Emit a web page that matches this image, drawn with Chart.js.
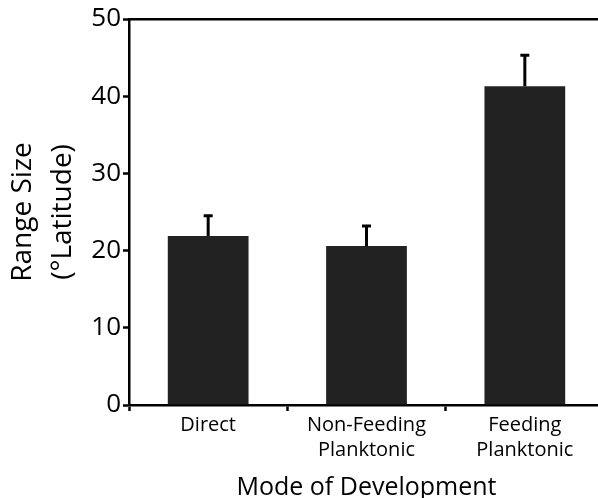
<!DOCTYPE html>
<html>
<head>
<meta charset="utf-8">
<script src="https://cdn.jsdelivr.net/npm/chart.js@4"></script>
<style>
html, body { margin: 0; padding: 0; background: #fff; overflow: hidden; }
</style>
</head>
<body>
<canvas id="rangeChart" width="604" height="498"></canvas>
<script>
// range size by mode of development

let categories = [
  "Direct",
  ["Non-Feeding", "Planktonic"],
  ["Feeding", "Planktonic"]
];

let rangeSize = [21.9, 20.6, 41.3];

let rangeErr = [2.6, 2.6, 4.0];

let yTicks = [0, 10, 20, 30, 40, 50];


// upward error bars only (the lower half is hidden by the bar)
let errorBars = {
  id: "errorBars",
  afterDatasetsDraw(chart) {
    let ctx = chart.ctx;
    let y = chart.scales.y;
    let meta = chart.getDatasetMeta(0);
    ctx.save();
    ctx.strokeStyle = "#000";
    ctx.lineWidth = 3;
    meta.data.forEach((bar, i) => {
      let x = bar.x;
      let top = y.getPixelForValue(rangeSize[i] + rangeErr[i]);
      ctx.beginPath();
      ctx.moveTo(x, bar.y);
      ctx.lineTo(x, top);
      ctx.moveTo(x - 4.5, top);
      ctx.lineTo(x + 4.5, top);
      ctx.stroke();
    });
    ctx.restore();
  }
};


let canvas = document.getElementById("rangeChart");

let chart = new Chart(canvas, {
  type: "bar",
  data: {
    labels: categories,
    datasets: [{
      data: rangeSize,
      backgroundColor: "#222222",
      borderWidth: 0,
      categoryPercentage: 1,
      barPercentage: 0.51
    }]
  },
  options: {
    responsive: false,
    devicePixelRatio: 1,
    animation: false,
    layout: { padding: { top: 19, left: 0, right: 0, bottom: 0 } },
    plugins: {
      legend: { display: false },
      tooltip: { enabled: false }
    },
    scales: {
      x: {
        offset: true,
        afterFit: s => { s.height = 93; },
        grid: {
          display: true,
          drawOnChartArea: false,
          offset: true,
          tickLength: 6,
          tickWidth: 2.5,
          color: "#000"
        },
        border: { display: true, color: "#000", width: 2.5 },
        ticks: {
          color: "#000",
          padding: 2,
          maxRotation: 0,
          font: { family: "Open Sans", size: 20, lineHeight: 1.25 }
        },
        title: {
          display: true,
          text: "Mode of Development",
          color: "#000",
          padding: { top: 0, bottom: 0 },
          font: { family: "Open Sans", size: 25, lineHeight: 0.8 }
        }
      },
      x2: {
        type: "category",
        position: "top",
        offset: true,
        afterFit: s => { s.height = 0; },
        grid: { display: false },
        ticks: { display: false },
        border: { display: true, color: "#000", width: 2.5 }
      },
      y: {
        min: 0,
        max: 50,
        afterFit: s => { s.width = 129; },
        afterBuildTicks: s => { s.ticks = yTicks.map(v => ({ value: v })); },
        grid: {
          display: true,
          drawOnChartArea: false,
          tickLength: 6,
          tickWidth: 2.5,
          color: "#000"
        },
        border: { display: true, color: "#000", width: 2.5 },
        ticks: {
          color: "#000",
          padding: 2,
          font: { family: "Open Sans", size: 26 }
        },
        title: {
          display: true,
          text: ["Range Size", "(\u00B0Latitude)"],
          color: "#000",
          padding: { top: 3, bottom: 0 },
          font: { family: "Open Sans", size: 28, lineHeight: 1.43 }
        }
      }
    }
  },
  plugins: [errorBars]
});
</script>
</body>
</html>
